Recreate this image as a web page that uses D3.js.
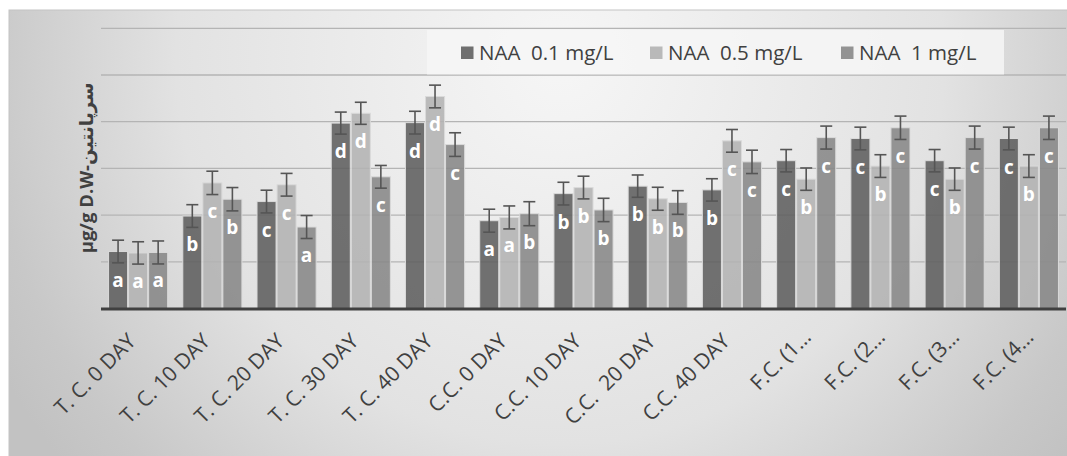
<!DOCTYPE html>
<html>
<head>
<meta charset="utf-8">
<script src="https://cdn.jsdelivr.net/npm/d3@7"></script>
<style>
html,body{margin:0;padding:0;background:#fff;}
svg{display:block;}
</style>
</head>
<body>
<svg id="chart" width="1067" height="456"></svg>
<script>
const categories = ["T. C. 0 DAY","T. C. 10 DAY","T. C. 20 DAY","T. C. 30 DAY","T. C. 40 DAY","C.C. 0 DAY","C.C. 10 DAY","C.C.  20 DAY","C.C. 40 DAY","F.C. (1\u2026","F.C. (2\u2026","F.C. (3\u2026","F.C. (4\u2026"];
const seriesNames = ["NAA  0.1 mg/L","NAA  0.5 mg/L","NAA  1 mg/L"];
const valuesS1 = [1.22,1.98,2.29,3.97,3.98,1.88,2.46,2.62,2.54,3.165,3.64,3.165,3.64];
const valuesS2 = [1.19,2.69,2.65,4.18,4.54,1.95,2.59,2.35,3.59,2.77,3.05,2.77,3.05];
const valuesS3 = [1.20,2.34,1.745,2.82,3.51,2.03,2.11,2.27,3.14,3.66,3.87,3.66,3.87];
const errorsS1 = [0.243,0.243,0.243,0.236,0.243,0.246,0.243,0.239,0.239,0.239,0.243,0.239,0.243];
const errorsS2 = [0.239,0.25,0.243,0.236,0.243,0.246,0.243,0.246,0.243,0.239,0.243,0.239,0.243];
const errorsS3 = [0.246,0.25,0.246,0.243,0.253,0.257,0.25,0.253,0.25,0.246,0.25,0.246,0.25];
const lettersS1 = ["a","b","c","d","d","a","b","b","b","c","c","c","c"];
const lettersS2 = ["a","c","c","d","d","a","b","b","c","b","b","b","b"];
const lettersS3 = ["a","b","a","c","c","b","b","b","c","c","c","c","c"];
const yTicks = [1,2,3,4,5,6];
const yTitle = "\u00b5g/g D.W-\u0633\u0631\u067e\u0627\u0646\u062a\u06cc\u0646";

const series = [
  {name: seriesNames[0], values: valuesS1, errors: errorsS1, letters: lettersS1},
  {name: seriesNames[1], values: valuesS2, errors: errorsS2, letters: lettersS2},
  {name: seriesNames[2], values: valuesS3, errors: errorsS3, letters: lettersS3}
];
const colors = ["#5f5f5f","#b3b3b3","#888888"];
const legendColors = ["#6f6f6f","#b9b9b9","#939393"];

const svg = d3.select("#chart");
const defs = svg.append("defs");
const grad = defs.append("radialGradient").attr("id","bg")
  .attr("gradientUnits","userSpaceOnUse").attr("cx",560).attr("cy",60).attr("r",640);
grad.append("stop").attr("offset","0").attr("stop-color","#f6f6f6");
grad.append("stop").attr("offset","0.6").attr("stop-color","#e2e2e2");
grad.append("stop").attr("offset","0.9").attr("stop-color","#c8c8c8");
grad.append("stop").attr("offset","1").attr("stop-color","#c2c2c2");

svg.append("rect").attr("x",9).attr("y",10).attr("width",1070).attr("height",460)
  .attr("fill","url(#bg)").attr("stroke","#c4c4c4").attr("stroke-width",1);

const pLeft = 101, pRight = 1066, pTop = 28.3, pBottom = 308.5;
const x0 = d3.scaleBand().domain(categories).range([pLeft,pRight]).paddingInner(0.19).paddingOuter(0.095);
const x1 = d3.scaleBand().domain(d3.range(series.length)).range([0,x0.bandwidth()]);
const y = d3.scaleLinear().domain([0,6]).range([pBottom,pTop]);

// gridlines
svg.append("g").selectAll("line").data(yTicks).join("line")
  .attr("x1",pLeft).attr("x2",pRight)
  .attr("y1",d=>y(d)).attr("y2",d=>y(d))
  .attr("stroke","#b4b4b4").attr("stroke-width",1.3);

// legend
const lg = svg.append("g");
lg.append("rect").attr("x",427).attr("y",30).attr("width",577).attr("height",44.5)
  .attr("fill","#f6f6f6").attr("fill-opacity",0.85);
const legendX = [461,650,841];
series.forEach((s,i)=>{
  lg.append("rect").attr("x",legendX[i]).attr("y",46.5).attr("width",12.5).attr("height",12.5)
    .attr("fill",legendColors[i]);
  lg.append("text").attr("x",legendX[i]+18).attr("y",59.5)
    .attr("font-family","'Open Sans', sans-serif").attr("font-size",20.5)
    .attr("fill","#404040").style("white-space","pre").text(s.name);
});

// bars
const groups = svg.append("g").selectAll("g").data(categories).join("g")
  .attr("transform",d=>`translate(${x0(d)},0)`);
groups.each(function(cat,ci){
  const g = d3.select(this);
  series.forEach((s,si)=>{
    const bx = x1(si), bw = x1.bandwidth();
    const v = s.values[ci], e = s.errors[ci];
    g.append("rect").attr("x",bx+0.5).attr("y",y(v)).attr("width",bw-1).attr("height",y(0)-y(v))
      .attr("fill",colors[si]).attr("fill-opacity",0.88)
      .attr("stroke","#dadada").attr("stroke-width",1);
    const cx = bx + bw/2;
    g.append("line").attr("x1",cx).attr("x2",cx).attr("y1",y(v+e)).attr("y2",y(v-e))
      .attr("stroke","#555").attr("stroke-width",1.6);
    [v+e, v-e].forEach(t=>{
      g.append("line").attr("x1",cx-6).attr("x2",cx+6).attr("y1",y(t)).attr("y2",y(t))
        .attr("stroke","#555").attr("stroke-width",1.6);
    });
    g.append("text").attr("x",cx).attr("y",y(v)+35).attr("text-anchor","middle")
      .attr("font-family","'Open Sans', sans-serif").attr("font-weight","bold").attr("font-size",19)
      .attr("fill","#ffffff").text(s.letters[ci]);
  });
});

// axis baseline
svg.append("line").attr("x1",pLeft).attr("x2",pRight).attr("y1",pBottom+0.5).attr("y2",pBottom+0.5)
  .attr("stroke","#404040").attr("stroke-width",3);

// x labels
const xAxis = d3.axisBottom(x0).tickSize(0).tickPadding(0);
const ax = svg.append("g").attr("transform",`translate(0,${pBottom})`).call(xAxis);
ax.select(".domain").remove();
ax.selectAll("text")
  .attr("font-family","'Open Sans', sans-serif").attr("font-size",21).attr("fill","#404040")
  .style("white-space","pre")
  .attr("text-anchor","end").attr("dy",null).attr("y",null)
  .attr("transform",d=> d.endsWith("\u2026") ? "translate(6,30) rotate(-45)" : "translate(-1,34) rotate(-45)");

// y title
svg.append("text").attr("transform","translate(93,168) rotate(-90)")
  .attr("text-anchor","middle").attr("font-family","'Open Sans','DejaVu Sans', sans-serif")
  .attr("font-weight","bold").attr("font-size",18.5).attr("fill","#404040")
  .attr("direction","ltr").text(yTitle);
</script>
</body>
</html>
